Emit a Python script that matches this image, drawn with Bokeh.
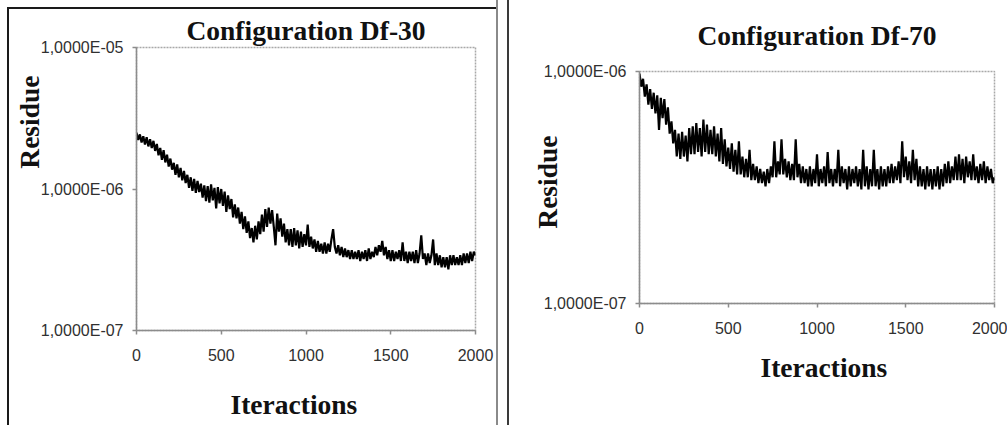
from bokeh.plotting import figure
from bokeh.models import Div, Title, FixedTicker, Range1d
from bokeh.layouts import row, column
from bokeh.embed import file_html
from bokeh.resources import INLINE

# ---------------- data ----------------
iterations = list(range(0, 2001, 10))

# Residue values, in units of 1e-7
df30_e7 = [
    25.0, 22.2, 24.3, 21.3, 23.6, 20.6, 23.2, 20.0, 22.5, 19.5,
    21.9, 18.6, 20.8, 17.3, 19.5, 16.1, 18.8, 15.4, 17.5, 14.4,
    16.4, 13.7, 15.3, 12.6, 14.9, 12.1, 14.1, 11.5, 13.4, 11.0,
    12.6, 10.2, 12.1, 9.7, 11.8, 9.4, 11.4, 9.5, 10.9, 8.7,
    10.6, 8.2, 10.5, 8.0, 10.8, 8.3, 10.2, 7.3, 10.3, 7.9,
    10.0, 7.6, 9.6, 6.9, 9.0, 7.2, 8.5, 6.3, 7.8, 6.2,
    7.4, 5.7, 6.9, 5.2, 6.4, 4.9, 5.9, 4.5, 5.3, 4.2,
    5.5, 4.4, 5.9, 4.8, 6.6, 5.0, 7.2, 5.4, 7.4, 5.7,
    7.1, 5.4, 4.0, 6.7, 5.0, 6.2, 4.6, 5.7, 4.2, 5.2,
    4.0, 5.2, 3.9, 5.3, 4.0, 5.1, 3.8, 5.0, 3.9, 4.8,
    4.0, 5.6, 3.9, 4.6, 3.8, 4.4, 3.6, 4.3, 3.6, 4.1,
    3.5, 4.2, 3.5, 4.1, 3.6, 4.4, 5.2, 3.9, 3.5, 4.0,
    3.4, 3.9, 3.3, 3.8, 3.3, 3.7, 3.2, 3.7, 3.2, 3.6,
    3.2, 3.7, 3.1, 3.6, 3.2, 3.7, 3.1, 3.8, 3.2, 3.6,
    3.3, 3.9, 3.4, 4.0, 3.6, 4.3, 3.4, 3.9, 3.2, 3.7,
    3.1, 3.7, 3.1, 3.6, 3.2, 3.7, 3.1, 4.2, 3.1, 3.6,
    3.0, 3.6, 3.1, 3.6, 3.0, 3.7, 3.0, 3.5, 4.7, 3.2,
    3.5, 2.9, 3.5, 3.0, 3.4, 4.4, 2.9, 3.5, 2.9, 3.4,
    2.8, 3.3, 2.8, 3.3, 2.7, 3.4, 2.9, 3.4, 2.9, 3.3,
    2.9, 3.4, 2.9, 3.5, 3.0, 3.5, 3.0, 3.6, 3.1, 3.6,
    3.4,
]

df70_e7 = [
    9.8, 8.6, 9.3, 7.8, 8.8, 7.2, 8.4, 6.9, 8.1, 6.6,
    7.9, 5.6, 7.7, 6.3, 7.6, 5.9, 7.0, 5.4, 6.1, 4.9,
    5.6, 4.3, 5.4, 4.2, 5.5, 4.3, 5.3, 4.1, 5.7, 4.4,
    5.8, 4.4, 6.0, 4.5, 5.7, 4.3, 6.2, 4.5, 5.9, 4.4,
    5.6, 4.4, 5.8, 4.3, 5.4, 4.1, 5.7, 4.0, 5.1, 3.9,
    4.7, 3.8, 4.9, 3.7, 4.6, 3.6, 5.0, 3.6, 4.3, 3.5,
    4.2, 3.5, 4.6, 3.4, 4.0, 3.4, 3.9, 3.3, 3.8, 3.3,
    3.7, 3.2, 3.8, 3.3, 3.9, 3.5, 5.0, 3.5, 4.1, 3.6,
    5.1, 3.6, 4.2, 3.5, 4.1, 3.4, 4.0, 3.4, 5.1, 3.5,
    4.0, 3.3, 3.9, 3.3, 3.8, 3.2, 3.9, 3.2, 3.8, 3.3,
    4.4, 3.2, 3.8, 3.3, 3.9, 3.2, 4.5, 3.3, 3.8, 3.2,
    3.8, 3.3, 4.6, 3.2, 3.9, 3.3, 3.8, 3.1, 3.9, 3.2,
    3.8, 3.3, 3.9, 3.2, 3.8, 3.1, 4.6, 3.2, 3.9, 3.1,
    3.8, 3.2, 4.6, 3.2, 3.8, 3.1, 3.9, 3.2, 3.8, 3.2,
    3.9, 3.3, 4.0, 3.3, 3.9, 3.4, 4.1, 3.3, 5.0, 3.5,
    4.3, 3.4, 4.1, 3.3, 4.6, 3.4, 4.2, 3.2, 3.9, 3.2,
    3.8, 3.1, 3.9, 3.2, 3.8, 3.1, 3.8, 3.2, 3.9, 3.1,
    3.8, 3.2, 4.0, 3.3, 4.1, 3.3, 3.9, 3.4, 4.3, 3.4,
    4.4, 3.4, 4.2, 3.3, 4.3, 3.5, 4.1, 3.4, 4.4, 3.4,
    3.9, 3.3, 4.0, 3.4, 4.1, 3.3, 3.9, 3.4, 3.8, 3.3,
    3.5,
]

x_ticks = [0, 500, 1000, 1500, 2000]
x_tick_labels = ["0", "500", "1000", "1500", "2000"]

df30_y_ticks = [1e-7, 1e-6, 1e-5]
df30_y_labels = ["1,0000E-07", "1,0000E-06", "1,0000E-05"]
df70_y_ticks = [1e-7, 1e-6]
df70_y_labels = ["1,0000E-07", "1,0000E-06"]

titles = ["Configuration Df-30", "Configuration Df-70"]
x_label = "Iteractions"
y_label = "Residue"

TICK_FONT = "Liberation Sans"
TEXT_FONT = "Liberation Serif"
AXIS_GRAY = "#8c8c8c"


def text_style(t):
    t.text_font = TEXT_FONT
    t.text_font_style = "bold"
    t.text_font_size = "27.5px"
    t.text_color = "#111111"


def make_panel(values_e7, y_ticks, y_labels, title, fw, fh, ml, mr, mt, mb,
               title_valign, title_standoff, xlab_offset, xlab_standoff,
               ylab_offset, ylab_standoff):
    residue = [v * 1e-7 for v in values_e7]
    p = figure(y_axis_type="log",
               x_range=Range1d(x_ticks[0], x_ticks[-1]),
               y_range=Range1d(y_ticks[0], y_ticks[-1]),
               frame_width=fw, frame_height=fh,
               min_border_left=ml, min_border_right=mr,
               min_border_top=mt, min_border_bottom=mb,
               title=title,
               output_backend="svg", toolbar_location=None)
    p.line(iterations, residue, line_color="black", line_width=2.2)

    p.grid.visible = False
    p.background_fill_color = "white"
    p.border_fill_color = "white"
    p.outline_line_color = "#a8a8a8"
    p.outline_line_width = 1.5
    p.outline_line_dash = "2 1"

    p.title.align = "center"
    p.title.vertical_align = title_valign
    p.title.standoff = title_standoff
    text_style(p.title)

    p.xaxis.ticker = FixedTicker(ticks=x_ticks)
    p.xaxis.major_label_overrides = dict(zip(x_ticks, x_tick_labels))
    p.yaxis.ticker = FixedTicker(ticks=y_ticks)
    p.yaxis.major_label_overrides = dict(zip(y_ticks, y_labels))

    for ax in (p.xaxis, p.yaxis):
        ax.axis_line_color = AXIS_GRAY
        ax.axis_line_width = 1.5
        ax.major_tick_line_color = AXIS_GRAY
        ax.major_tick_line_width = 1.5
        ax.major_tick_in = 0
        ax.major_tick_out = 4
        ax.minor_tick_line_color = None
        ax.major_label_text_font = TICK_FONT
        ax.major_label_text_font_size = "16px"
        ax.major_label_text_color = "#303030"
    p.xaxis.major_label_standoff = 14
    p.yaxis.major_label_standoff = 9

    xt = Title(text=x_label, align="left", offset=xlab_offset, standoff=xlab_standoff)
    text_style(xt)
    p.add_layout(xt, "below")
    yt = Title(text=y_label, align="right", offset=ylab_offset, standoff=ylab_standoff)
    text_style(yt)
    p.add_layout(yt, "left")
    return p


p1 = make_panel(df30_e7, df30_y_ticks, df30_y_labels, titles[0],
                fw=339, fh=283, ml=127, mr=21, mt=38, mb=95,
                title_valign="bottom", title_standoff=4,
                xlab_offset=94, xlab_standoff=46,
                ylab_offset=28, ylab_standoff=-14)
p2 = make_panel(df70_e7, df70_y_ticks, df70_y_labels, titles[1],
                fw=355, fh=232, ml=130, mr=13, mt=71, mb=122,
                title_valign="top", title_standoff=37,
                xlab_offset=121, xlab_standoff=26,
                ylab_offset=64, ylab_standoff=-44)


def bar(w, h, color):
    return Div(width=w, height=h, margin=0, styles={"background-color": color})


left_col = column(bar(489, 7, "#ffffff"),
                  row(bar(2, 418, "#1a1a1a"),
                      column(bar(487, 2, "#1a1a1a"), p1, spacing=0, margin=0),
                      spacing=0, margin=0),
                  spacing=0, margin=0)
layout = row(bar(7, 425, "#ffffff"),
             left_col,
             bar(2, 425, "#8a8a8a"),
             bar(9, 425, "#ffffff"),
             bar(2, 425, "#3a3a3a"),
             p2, spacing=0, margin=0)

open("out.html", "w").write(file_html(layout, INLINE))
